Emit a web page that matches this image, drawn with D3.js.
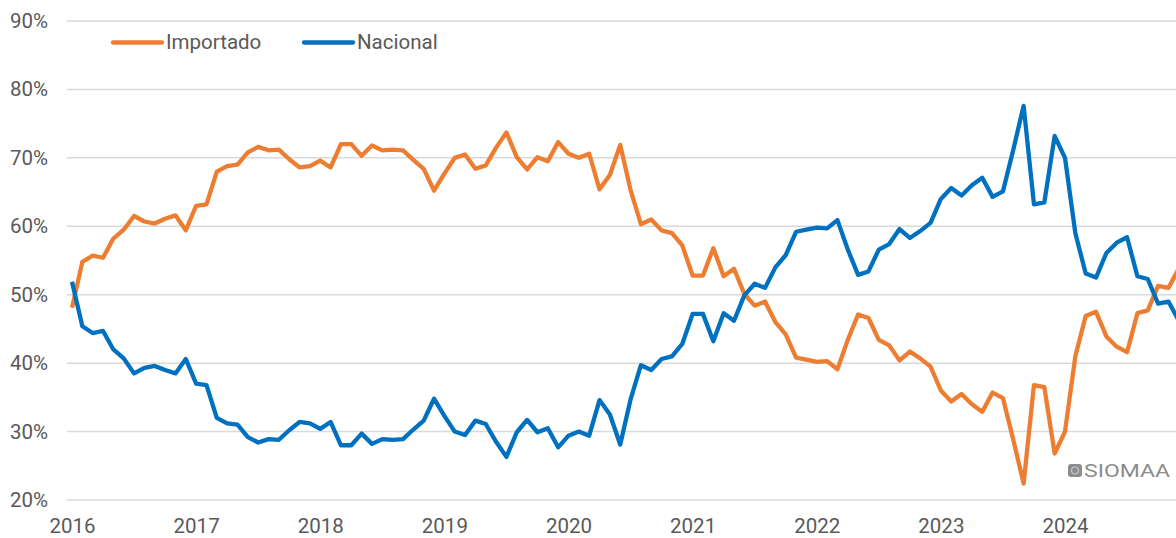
<!DOCTYPE html>
<html>
<head>
<meta charset="utf-8">
<script src="https://cdn.jsdelivr.net/npm/d3@7"></script>
<style>
  html, body { margin: 0; padding: 0; background: #fff; }
  svg { display: block; font-family: Roboto, "Noto Sans", sans-serif; }
</style>
</head>
<body>
<svg id="chart"></svg>
<script>
'use strict';

const WIDTH = 1176;
const HEIGHT = 538;
const FONT_SIZE = 20.5;

const YEARS = ['2016', '2017', '2018', '2019', '2020', '2021', '2022', '2023', '2024'];
const Y_TICKS = [20, 30, 40, 50, 60, 70, 80, 90];

// monthly share (%), Jan 2016 .. Dec 2024
const importado = [
  48.1, 54.8, 55.7, 55.4, 58.2, 59.5, 61.5, 60.7, 60.4, 61.1, 61.6, 59.4,
  63.0, 63.2, 68.0, 68.8, 69.0, 70.8, 71.6, 71.1, 71.2, 69.8, 68.6, 68.8,
  69.6, 68.6, 72.0, 72.0, 70.3, 71.8, 71.1, 71.2, 71.1, 69.7, 68.4, 65.2,
  67.7, 70.0, 70.5, 68.4, 68.9, 71.5, 73.7, 70.1, 68.3, 70.1, 69.5, 72.3,
  70.6, 70.0, 70.6, 65.4, 67.5, 71.9, 65.3, 60.3, 61.0, 59.4, 59.0, 57.2,
  52.8, 52.8, 56.8, 52.7, 53.8, 50.1, 48.4, 49.0, 46.0, 44.2, 40.8, 40.5,
  40.2, 40.3, 39.1, 43.4, 47.1, 46.6, 43.4, 42.6, 40.4, 41.7, 40.7, 39.5,
  36.0, 34.4, 35.5, 34.0, 32.9, 35.7, 34.9, 28.8, 22.4, 36.8, 36.5, 26.8,
  30.0, 41.0, 46.9, 47.5, 43.9, 42.4, 41.6, 47.3, 47.7, 51.3, 51.0, 53.8,
];

const nacional = [
  51.9, 45.4, 44.4, 44.7, 42.0, 40.7, 38.5, 39.3, 39.6, 39.0, 38.5, 40.6,
  37.0, 36.8, 32.0, 31.2, 31.0, 29.2, 28.4, 28.9, 28.8, 30.2, 31.4, 31.2,
  30.4, 31.4, 28.0, 28.0, 29.7, 28.2, 28.9, 28.8, 28.9, 30.3, 31.6, 34.8,
  32.3, 30.0, 29.5, 31.6, 31.1, 28.5, 26.3, 29.9, 31.7, 29.9, 30.5, 27.7,
  29.4, 30.0, 29.4, 34.6, 32.5, 28.1, 34.7, 39.7, 39.0, 40.6, 41.0, 42.8,
  47.2, 47.2, 43.2, 47.3, 46.2, 49.9, 51.6, 51.0, 54.0, 55.8, 59.2, 59.5,
  59.8, 59.7, 60.9, 56.6, 52.9, 53.4, 56.6, 57.4, 59.6, 58.3, 59.3, 60.5,
  64.0, 65.6, 64.5, 66.0, 67.1, 64.3, 65.1, 71.2, 77.6, 63.2, 63.5, 73.2,
  70.0, 59.0, 53.1, 52.5, 56.1, 57.6, 58.4, 52.7, 52.3, 48.7, 49.0, 46.2,
];

const SERIES = [
  { name: 'Importado', values: importado, color: '#ED7D31' },
  { name: 'Nacional', values: nacional, color: '#0070C0' },
];

const svg = d3.select('#chart')
  .attr('width', WIDTH)
  .attr('height', HEIGHT)
  .attr('viewBox', `0 0 ${WIDTH} ${HEIGHT}`);

// month index -> x (Jan 2016 = 0)
const x = d3.scaleLinear().domain([0, 96]).range([72, 1065]);
const y = d3.scaleLinear().domain([20, 90]).range([500, 21]);

// gridlines
svg.append('g').attr('class', 'grid')
  .selectAll('line')
  .data(Y_TICKS)
  .join('line')
  .attr('x1', 67).attr('x2', WIDTH)
  .attr('y1', d => y(d)).attr('y2', d => y(d))
  .attr('stroke', '#d9d9d9').attr('stroke-width', 1.5);

// y axis labels
const yAxis = svg.append('g')
  .attr('transform', 'translate(48,0)')
  .call(d3.axisLeft(y).tickValues(Y_TICKS).tickSize(0).tickPadding(0).tickFormat(d => d + '%'));
yAxis.select('.domain').remove();
yAxis.selectAll('text')
  .attr('fill', '#595959').attr('font-size', FONT_SIZE).attr('font-family', 'Roboto, sans-serif');

// x axis labels
const xAxis = svg.append('g')
  .attr('transform', 'translate(0,518)')
  .call(d3.axisBottom(x).tickValues(YEARS.map((_, i) => i * 12)).tickSize(0).tickPadding(0)
    .tickFormat((d, i) => YEARS[i]));
xAxis.select('.domain').remove();
xAxis.selectAll('text')
  .attr('fill', '#595959').attr('font-size', FONT_SIZE).attr('font-family', 'Roboto, sans-serif');

// lines
const line = d3.line()
  .x((d, i) => x(i))
  .y(d => y(d));

svg.append('g').attr('class', 'lines')
  .selectAll('path')
  .data(SERIES)
  .join('path')
  .attr('d', d => line(d.values))
  .attr('fill', 'none')
  .attr('stroke', d => d.color)
  .attr('stroke-width', 4.3)
  .attr('stroke-linejoin', 'round');

// legend
const legend = svg.append('g').attr('class', 'legend');
const legendX = [113, 304];
SERIES.forEach((s, i) => {
  const g = legend.append('g').attr('transform', `translate(${legendX[i]},42.5)`);
  g.append('line')
    .attr('x1', 0).attr('x2', 49).attr('y1', 0).attr('y2', 0)
    .attr('stroke', s.color).attr('stroke-width', 4.3).attr('stroke-linecap', 'round');
  g.append('text')
    .attr('x', 53).attr('y', 6.5)
    .attr('fill', '#595959').attr('font-size', FONT_SIZE)
    .text(s.name);
});

// watermark
const wm = svg.append('g').attr('class', 'watermark').attr('transform', 'translate(1068,464)');
wm.append('rect')
  .attr('width', 14).attr('height', 13).attr('rx', 3)
  .attr('fill', '#8c8c8c');
wm.append('circle')
  .attr('cx', 7).attr('cy', 6.5).attr('r', 3.5)
  .attr('fill', 'none').attr('stroke', '#c8c8c8').attr('stroke-width', 1.2);
wm.append('text')
  .attr('x', 16).attr('y', 13)
  .attr('fill', '#8c8c8c').attr('font-size', 18)
  .attr('textLength', 86).attr('lengthAdjust', 'spacingAndGlyphs')
  .text('SIOMAA');
</script>
</body>
</html>
